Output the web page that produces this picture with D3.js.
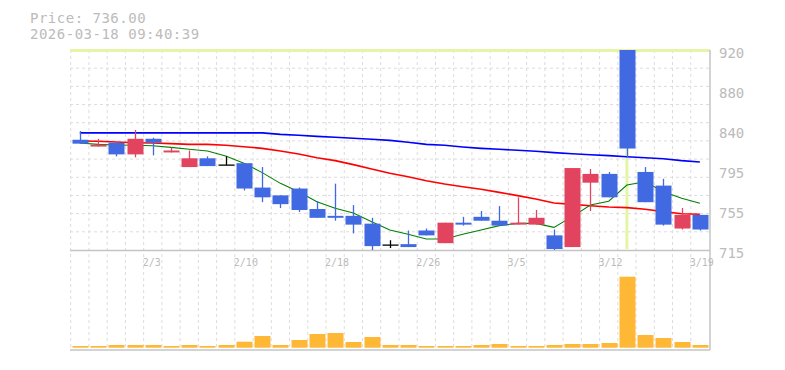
<!DOCTYPE html>
<html>
<head>
<meta charset="utf-8">
<script src="https://cdn.jsdelivr.net/npm/d3@7/dist/d3.min.js"></script>
<style>
  html, body { margin: 0; padding: 0; background: #fff; }
  svg { display: block; }
  text { font-family: "DejaVu Sans Mono", monospace; fill: #bbb; }
</style>
</head>
<body>
<svg id="chart" width="785" height="370"></svg>
<script>
// ─── Data ─────────────────────────────────────────────────────────────────────

const dates = ["1/28","1/29","1/30","2/2","2/3","2/4","2/5","2/6","2/9","2/10",
  "2/12","2/13","2/16","2/17","2/18","2/19","2/20","2/24","2/25","2/26",
  "2/27","3/2","3/3","3/4","3/5","3/6","3/9","3/10","3/11","3/12",
  "3/13","3/16","3/17","3/18","3/19"];

const opens  = [828,821,825,813,829,815,800,809,802,804,779,771,778,757,750,750,742,720,721,735,
                722,743,749,745,741,741,730,718,784,793,920,795,781,737,751];
const highs  = [837,829,825,838,830,820,817,811,811,804,800,771,779,765,783,761,748,725,735,737,
                743,749,755,760,769,756,736,799,798,795,920,800,788,758,751];
const lows   = [824,821,811,810,812,815,800,801,802,776,764,758,754,748,745,732,715,717,718,730,
                722,740,745,740,741,741,715,718,755,769,810,764,740,736,735];
const closes = [824,823,813,829,825,817,809,801,802,778,769,762,756,748,748,741,719,720,718,730,
                743,741,745,740,743,748,716,799,793,769,819,764,741,751,736];

// moving averages (short / mid / long)
const maShort = [824.7,823.3,822.6,822.3,821.9,820.2,818.2,816.5,811.4,803.9,794.3,783.3,774.8,764.5,757.7,
                 753,744,735.5,731.1,726.3,726.3,731.1,735.5,740,742.3,742.3,738.2,749.2,761.1,765,
                 781.6,785,774.8,768,762.9];
const maMid   = [826.7,826.4,825.7,825,824.7,824,823.3,823.3,822.3,820.9,819.2,816.5,813.4,809.6,806.6,
                 802.5,798,793.6,790.1,786,782.6,779.9,777.2,774.1,770.7,767.3,763.2,761.8,760.4,759.1,
                 758.4,756.7,754.3,752.2,751.6];
const maLong  = [835.1,835.1,835.1,835.1,835.1,835.1,835.1,835.1,835.1,835.1,835.1,833.5,832.6,831.5,830.5,
                 829.5,828.5,827.4,825.4,823.3,822.3,820.6,819.2,818.2,817.2,816.2,814.8,813.7,812.7,811.7,
                 810.6,809.6,808.6,806.6,805.2];

const volumes = [17,17,27,27,27,17,27,17,27,60,117,27,77,137,147,57,107,27,27,17,
                 17,17,27,37,17,17,27,37,37,47,710,127,97,57,27];

const yTickLabels = ["920","880","840","795","755","715"];
const headerLines = ["Price: 736.00", "2026-03-18 09:40:39"];
const highlightIndex = 30;

// ─── Scales ───────────────────────────────────────────────────────────────────

const svg = d3.select("#chart");
const L = 70, R = 710, T = 50, B = 250, VB = 350;

const x  = d3.scaleBand().domain(d3.range(dates.length)).range([70.7, 709]);
const cx = i => x(i) + x.bandwidth() / 2;
const y  = d3.scaleLinear().domain([715, 920]).range([B, T]);
const yv = d3.scaleLinear().domain([0, 750]).range([347.7, 272.7]);
const CW = 16;

const UP = "#e24460", DOWN = "#4169e1";

// ─── Grid ─────────────────────────────────────────────────────────────────────

const grid = svg.append("g").attr("stroke", "#dcdcdc").attr("stroke-dasharray", "3,3");
d3.range(1, 11).forEach(k => {
  const gy = y(715 + k * 205 / 11);
  grid.append("line").attr("x1", L).attr("x2", R).attr("y1", gy).attr("y2", gy);
});
dates.forEach((d, i) => {
  grid.append("line").attr("x1", x(i)).attr("x2", x(i)).attr("y1", T).attr("y2", VB);
});

// highlight cross
svg.append("line").attr("x1", L).attr("x2", R).attr("y1", T + 0.5).attr("y2", T + 0.5)
  .attr("stroke", "#e4f5a6").attr("stroke-width", 3);
svg.append("line").attr("x1", cx(highlightIndex)).attr("x2", cx(highlightIndex))
  .attr("y1", T).attr("y2", B - 1)
  .attr("stroke", "#e4f5a6").attr("stroke-width", 3);

// axis frame
const axis = svg.append("g").attr("stroke", "#c4c4c4").attr("stroke-width", 1.5);
axis.append("line").attr("x1", L).attr("x2", R).attr("y1", B + 0.5).attr("y2", B + 0.5);
axis.append("line").attr("x1", L).attr("x2", R).attr("y1", VB).attr("y2", VB);
axis.append("line").attr("x1", R).attr("x2", R).attr("y1", T).attr("y2", VB);

// ─── Moving averages ──────────────────────────────────────────────────────────

const line = d3.line().x((d, i) => cx(i)).y(d => y(d));
[[maLong, "#0000ff", 1.6], [maMid, "#ff0000", 1.6], [maShort, "#008000", 1.1]].forEach(([data, col, w]) => {
  svg.append("path").datum(data).attr("d", line)
    .attr("fill", "none").attr("stroke", col).attr("stroke-width", w);
});

// ─── Candles ──────────────────────────────────────────────────────────────────

const candles = svg.append("g");
dates.forEach((d, i) => {
  const o = opens[i], c = closes[i];
  const col = c > o ? UP : c < o ? DOWN : "#000";
  const xc = Math.round(cx(i)) + 0.5;
  candles.append("line").attr("x1", xc).attr("x2", xc)
    .attr("y1", y(highs[i])).attr("y2", y(lows[i]))
    .attr("stroke", col).attr("stroke-width", 1.3);
  if (c === o) {
    candles.append("line").attr("x1", xc - CW / 2).attr("x2", xc + CW / 2)
      .attr("y1", y(o)).attr("y2", y(o)).attr("stroke", col).attr("stroke-width", 1.3);
  } else {
    const top = y(Math.max(o, c)), bot = y(Math.min(o, c));
    candles.append("rect").attr("x", xc - CW / 2).attr("width", CW)
      .attr("y", top).attr("height", Math.max(1.5, bot - top)).attr("fill", col);
  }
});

// ─── Volume ───────────────────────────────────────────────────────────────────

svg.append("g").selectAll("rect").data(volumes).join("rect")
  .attr("x", (v, i) => Math.round(cx(i)) + 0.5 - CW / 2)
  .attr("width", CW)
  .attr("y", v => yv(v))
  .attr("height", v => yv(0) - yv(v))
  .attr("fill", "#ffb836");

// ─── Text ─────────────────────────────────────────────────────────────────────

yTickLabels.forEach((t, k) => {
  svg.append("text").attr("x", 719).attr("y", y(920 - k * 41) + 8.3)
    .attr("font-size", 14).text(t);
});

dates.forEach((d, i) => {
  if (i % 5 !== 4) return;
  svg.append("text").attr("x", x(i) - 1).attr("y", 266)
    .attr("font-size", 10).attr("fill", "#aaa").text(d);
});

headerLines.forEach((t, k) => {
  svg.append("text").attr("x", 30).attr("y", 22.5 + k * 16)
    .attr("font-size", 14).attr("letter-spacing", 0.5).text(t);
});
</script>
</body>
</html>
